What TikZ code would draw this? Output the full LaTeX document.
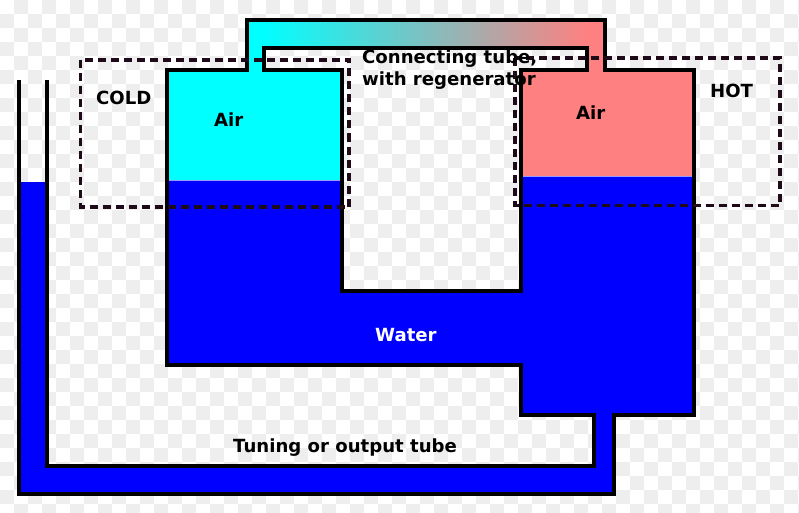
\documentclass[tikz,border=0pt]{standalone}
\usepackage{xcolor}
\usepackage{fontspec}
\setmainfont{DejaVu Sans}
\usepackage{tikz}
\definecolor{coldair}{RGB}{0,255,255}
\definecolor{hotair}{RGB}{255,128,128}
\definecolor{water}{RGB}{0,0,255}
\definecolor{checker}{RGB}{238,238,238}
\definecolor{zone}{RGB}{30,10,25}
\tikzset{wall/.style={draw=black,line width=3.4pt,line join=miter},
    zonebox/.style={draw=zone,line width=3.2pt,dash pattern=on 8pt off 5pt},
    tag/.style={font=\fontsize{18.1}{22}\selectfont\bfseries,inner sep=0pt,text=black}}

\begin{document}
\begin{tikzpicture}[x=1pt,y=-1pt]
    \useasboundingbox (0,0) rectangle (799,513);
    \fill[white] (0,0) rectangle (799,513);
    % background squares
    \foreach \i in {0,...,57}
        \foreach \j in {0,...,36}
            {
                \pgfmathparse{int(mod(\i+\j,2))}
                \ifnum\pgfmathresult=1
                    \fill[checker] (\i*14,\j*14) rectangle ++(14,14);
                \fi
            }
    % air
    \fill[coldair] (167,70) rectangle (342,180);
    \fill[hotair] (522,70) rectangle (694,176);
    % connecting tube
    \fill[coldair] (247,20) rectangle (264,70);
    \fill[hotair] (587,20) rectangle (605,70);
    \shade[left color=coldair,right color=hotair] (263,20) rectangle (588,48);
    % water
    \fill[water] (167,180) -- (342,180) -- (342,291) -- (521,291) -- (521,176) -- (694,176)
        -- (694,415) -- (614,415) -- (614,494) -- (19,494) -- (19,182) -- (47,182)
        -- (47,466) -- (594,466) -- (594,415) -- (521,415) -- (521,365) -- (167,365) -- cycle;
    \draw[white,line width=0.5pt,opacity=0.6] (169,180) -- (340,180) (523,176) -- (692,176);
    % walls
    \draw[wall] (19,80) -- (19,494) -- (614,494) -- (614,415) -- (694,415) -- (694,70) -- (605,70)
        -- (605,20) -- (247,20) -- (247,70) -- (167,70) -- (167,365) -- (521,365) -- (521,415)
        -- (594,415) -- (594,466) -- (47,466) -- (47,80);
    \draw[wall] (264,70) -- (264,48) -- (587,48) -- (587,70) -- (521,70) -- (521,291)
        -- (342,291) -- (342,70) -- cycle;
    % cold and hot zones
    \draw[zonebox] (80.5,60) rectangle (349,207);
    \draw[zonebox] (515,58) rectangle (780,205.5);
    % labels
    \node[tag,anchor=base west] (tube) at (362,63.5) {Connecting tube,};
    \node[tag,anchor=base west] (regenerator) at (362,85.5) {with regenerator};
    \node[tag,anchor=base west] (cold) at (96,105) {COLD};
    \node[tag,anchor=base west] (hot) at (710,98) {HOT};
    \node[tag,anchor=base west] (leftair) at (214,127) {Air};
    \node[tag,anchor=base west] (rightair) at (576,120) {Air};
    \node[tag,anchor=base west,text=white] (waterlabel) at (375,341) {Water};
    \node[tag,anchor=base west] (output) at (233,452) {Tuning or output tube};
\end{tikzpicture}
\end{document}
